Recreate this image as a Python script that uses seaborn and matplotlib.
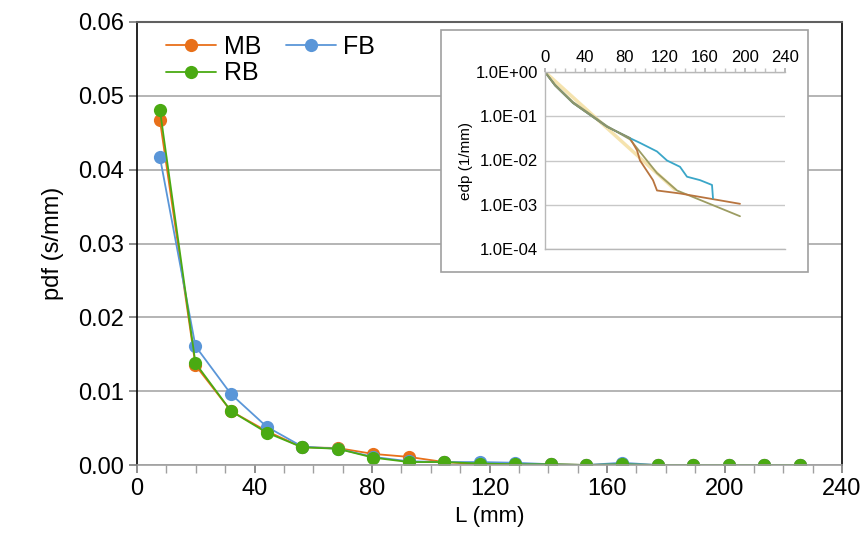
import numpy as np
import pandas as pd
import seaborn as sns
import matplotlib
matplotlib.use("Agg")
import matplotlib.pyplot as plt
from matplotlib.patches import Rectangle
from matplotlib.ticker import MultipleLocator, FixedLocator, FuncFormatter

# ---- main data ----
L_mm = [7.8, 19.9, 32.0, 44.1, 56.2, 68.3, 80.4, 92.5, 104.6, 116.7,
        128.8, 140.9, 153.0, 165.1, 177.2, 189.3, 201.4, 213.5, 225.6]
pdf_MB = [0.0467, 0.0135, 0.0073, 0.0046, 0.0024, 0.0023, 0.0015, 0.0011, 0.0004, 0.0001,
          0.0001, 0.0001, 0.0000, 0.0001, 0.0000, 0.0000, 0.0000, 0.0000, 0.0000]
pdf_FB = [0.0417, 0.0161, 0.0096, 0.0052, 0.0025, 0.0022, 0.0011, 0.0005, 0.0004, 0.0004,
          0.0003, 0.0001, 0.0000, 0.0003, 0.0000, 0.0000, 0.0000, 0.0000, 0.0000]
pdf_RB = [0.0481, 0.0138, 0.0073, 0.0044, 0.0024, 0.0022, 0.0010, 0.0004, 0.0004, 0.0002,
          0.0001, 0.0001, 0.0000, 0.0001, 0.0000, 0.0000, 0.0000, 0.0000, 0.0000]
series_names = ["MB", "FB", "RB"]
series_colors = ["#e8701a", "#5a96d8", "#4aaa12"]

# ---- inset data (edp, log scale) ----
inset_FB_x = [0, 10, 28, 62, 85, 95, 112, 122, 135, 142, 155, 167, 168]
inset_FB_y = [1.0, 0.5, 0.2, 0.058, 0.032, 0.025, 0.016, 0.010, 0.0072, 0.0043, 0.0036, 0.0028, 0.0014]
inset_MB_x = [0, 10, 28, 62, 85, 92, 95, 108, 112, 135, 195]
inset_MB_y = [1.0, 0.5, 0.2, 0.058, 0.032, 0.017, 0.010, 0.0036, 0.0021, 0.0018, 0.00105]
inset_RB_x = [0, 10, 28, 62, 85, 112, 132, 195]
inset_RB_y = [1.0, 0.52, 0.21, 0.06, 0.03, 0.0052, 0.0021, 0.00055]
inset_fit_x = [0, 130]
inset_fit_y = [1.0, 0.0022]

sns.set_theme(style="white")
plt.rcParams['font.family'] = ['Liberation Sans', 'DejaVu Sans']
plt.rcParams.update({"text.color": "black", "axes.labelcolor": "black",
                     "xtick.labelcolor": "black", "ytick.labelcolor": "black"})

fig = plt.figure(figsize=(8.65, 5.55), dpi=100)
ax = fig.add_axes([137/865, 1-465/555, (842-137)/865, (465-22)/555])

df = pd.DataFrame({
    "L": L_mm * 3,
    "pdf": pdf_MB + pdf_FB + pdf_RB,
    "series": [n for n in series_names for _ in L_mm],
})
sns.lineplot(data=df, x="L", y="pdf", hue="series", palette=dict(zip(series_names, series_colors)),
             marker="o", markersize=9.5, markeredgewidth=0, linewidth=1.3, ax=ax, legend=True, sort=False)

ax.set_xlim(0, 240)
ax.set_ylim(0, 0.06)
ax.xaxis.set_major_locator(MultipleLocator(40))
ax.xaxis.set_minor_locator(MultipleLocator(10))
ax.yaxis.set_major_locator(MultipleLocator(0.01))
ax.yaxis.set_major_formatter(FuncFormatter(lambda v, p: f"{v:.2f}"))
ax.tick_params(axis="both", which="major", labelsize=17, length=6, direction="out", color="#808080",
               bottom=True, left=True)
ax.tick_params(axis="x", which="minor", length=6, direction="out", color="#a0a0a0", bottom=True)
ax.grid(axis="y", color="#a8a8a8", linewidth=1.2)
ax.set_axisbelow(True)
for s in ["left", "right"]:
    ax.spines[s].set_color("#000000")
    ax.spines[s].set_linewidth(1.2)
ax.spines["top"].set_color("#606060")
ax.spines["top"].set_linewidth(1.5)
ax.spines["bottom"].set_color("#a0a0a0")
ax.spines["bottom"].set_linewidth(1.2)
ax.set_xlabel("L (mm)", fontsize=16, labelpad=4)
ax.set_ylabel("pdf (s/mm)", fontsize=17, labelpad=10)

handles, labels = ax.get_legend_handles_labels()
hmap = dict(zip(labels, handles))
order = ["MB", "RB", "FB"]  # column-major fill -> rows: MB FB / RB
ax.legend([hmap[k] for k in order], order, ncol=2, loc="upper left", bbox_to_anchor=(0.02, 1.005),
          frameon=False, fontsize=18, handlelength=2.0, handletextpad=0.3, columnspacing=1.0,
          labelspacing=0.1, borderaxespad=0.2)

# inset frame
fig.patches.append(Rectangle((441/865, 1-272/555), (808-441)/865, (272-30)/555,
                             transform=fig.transFigure, facecolor="white", edgecolor="#a0a0a0",
                             linewidth=1.2, zorder=2))

axi = fig.add_axes([545/865, 1-249/555, 240/865, 177/555], zorder=3)
axi.set_facecolor("white")
axi.plot(inset_fit_x, inset_fit_y, color="#f3dc9a", linewidth=2.5, alpha=0.8)
axi.plot(inset_RB_x, inset_RB_y, color="#9c9c62", linewidth=1.3)
axi.plot(inset_MB_x, inset_MB_y, color="#b8743e", linewidth=1.3)
axi.plot(inset_FB_x, inset_FB_y, color="#3aa6c8", linewidth=1.3)
axi.plot(inset_FB_x[:5], inset_FB_y[:5], color="#8f9468", linewidth=1.3)
axi.set_yscale("log")
axi.set_xlim(0, 240)
axi.set_ylim(1e-4, 1.0)
axi.xaxis.set_major_locator(MultipleLocator(40))
axi.xaxis.set_minor_locator(MultipleLocator(10))
axi.xaxis.tick_top()
axi.yaxis.set_major_locator(FixedLocator([1e-4, 1e-3, 1e-2, 1e-1, 1.0]))
axi.yaxis.set_minor_locator(FixedLocator([]))
axi.yaxis.set_major_formatter(FuncFormatter(lambda v, p: f"{v:.1E}"))
axi.tick_params(axis="both", which="major", labelsize=12, length=3, direction="out", color="#b0b0b0", pad=2)
axi.tick_params(axis="x", which="minor", length=3, top=True, color="#c0c0c0")
axi.grid(axis="y", which="major", color="#c8c8c8", linewidth=1.0)
for s in axi.spines.values():
    s.set_color("#b8b8b8")
    s.set_linewidth(1.0)
axi.spines["right"].set_visible(False)
axi.set_ylabel("edp (1/mm)", fontsize=11, labelpad=2)

fig.savefig("out.png", dpi=100)
